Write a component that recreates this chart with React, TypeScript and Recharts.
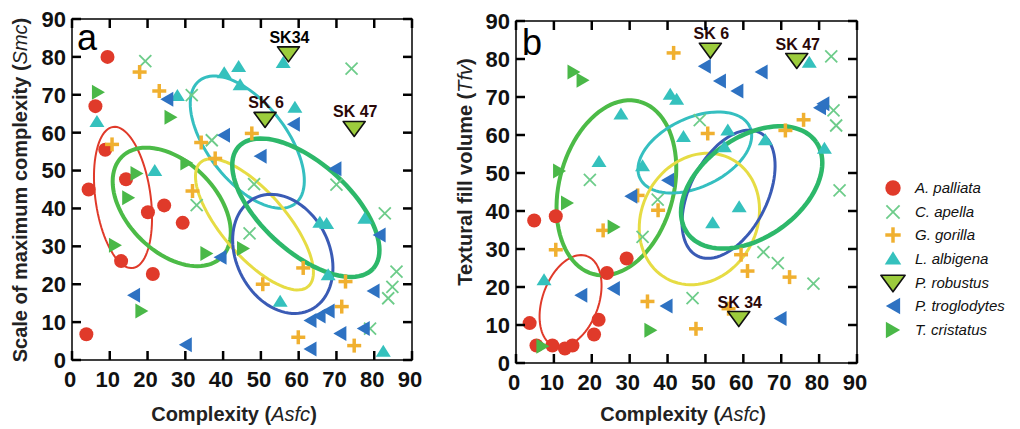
import React from 'react';
import { ScatterChart, Scatter, XAxis, YAxis, ReferenceArea, Label, Customized } from 'recharts';

type Pt = { x: number; y: number; label?: string };
type Ell = { species: string; cx: number; cy: number; a: number; b: number; angle: number };

const TICKS = [0, 10, 20, 30, 40, 50, 60, 70, 80, 90];

const SPECIES = ['palliata', 'apella', 'gorilla', 'albigena', 'robustus', 'troglodytes', 'cristatus'];
const SPECIES_NAMES = ['A. palliata', 'C. apella', 'G. gorilla', 'L. albigena', 'P. robustus', 'P. troglodytes', 'T. cristatus'];

const toPts = (arr: (number | string)[][]): Pt[] =>
  arr.map((r) => ({ x: r[0] as number, y: r[1] as number, label: r[2] as string | undefined }));

// ---------- Panel a : Asfc vs Smc ----------
const palliataA = toPts([[9.4, 80], [6.2, 67], [8.8, 55.5], [4.4, 45], [14.3, 47.7], [20.1, 39], [24.4, 40.8], [29.3, 36.2], [13, 26.1], [21.4, 22.7], [3.8, 6.8]]);
const apellaA = toPts([[19.4, 78.9], [31.7, 69.9], [37, 58], [33, 40.9], [48.2, 46.4], [47, 33.4], [70, 46.3], [74, 76.9], [82.8, 38.7], [85.9, 23.3], [84.8, 19.3], [83.7, 16.3], [78.9, 8.3]]);
const gorillaA = toPts([[17.9, 76], [23.1, 71], [10.6, 56.9], [34.2, 57.4], [37.9, 53.2], [31.9, 44.6], [47.6, 59.8], [61.2, 24.3], [50.5, 20], [72.4, 20.7], [71.4, 14.1], [59.9, 6], [74.7, 3.8]]);
const albigenaA = toPts([[6.6, 62.8], [21.9, 49.9], [27.9, 69.7], [40.3, 75.7], [44.1, 77.3], [44.5, 72.5], [55.9, 78.4], [59, 66.6], [65.6, 36.2], [67.4, 35.9], [67.8, 22.4], [77.5, 37.3], [55.1, 15.4], [82.4, 2.2]]);
const robustusA = toPts([[57.3, 80.8, 'SK34'], [51.1, 63.5, 'SK 6'], [74.7, 61.1, 'SK 47']]);
const troglodytesA = toPts([[25.1, 68.8], [40.1, 59.3], [49.8, 53.8], [58.6, 62.2], [69.6, 50.5], [81.3, 33], [79.7, 18.2], [77.1, 8.3], [70.9, 7], [63, 10.4], [65.4, 11.6], [67.8, 12.9], [63, 2.9], [16.3, 17.1], [30, 4], [39.2, 27.1]]);
const cristatusA = toPts([[7, 70.7], [26.2, 64.1], [17.2, 49.2], [15, 42.8], [11.5, 30.3], [18.5, 12.9], [30.4, 52], [35.7, 28.1], [45.4, 29.4]]);

const ellipsesA: Ell[] = [
  { species: 'palliata', cx: 13.5, cy: 42.9, a: 18.8, b: 7.3, angle: -82 },
  { species: 'cristatus', cx: 26.4, cy: 40.4, a: 18.7, b: 11.8, angle: -45 },
  { species: 'albigena', cx: 46.4, cy: 57.5, a: 20.6, b: 10.4, angle: -52 },
  { species: 'gorilla', cx: 48.3, cy: 35.8, a: 21.7, b: 8.5, angle: -49 },
  { species: 'troglodytes', cx: 55.8, cy: 28, a: 16.5, b: 12.3, angle: -63 },
  { species: 'apella', cx: 61.9, cy: 40.2, a: 24, b: 11.7, angle: -42 },
];

// ---------- Panel b : Asfc vs Tfv ----------
const palliataB = toPts([[4.8, 37.5], [10.5, 38.6], [3.6, 10.5], [5.4, 4.6], [9.6, 4.6], [12.9, 3.8], [14.9, 4.6], [20.6, 7.5], [21.8, 11.4], [24, 23.7], [29.2, 27.5]]);
const apellaB = toPts([[19.5, 48.2], [37.4, 43], [33.4, 33.2], [48.5, 63.9], [46.6, 17.1], [65.3, 29.2], [69.1, 26.3], [78.5, 20.9], [83.2, 80.7], [83.8, 66.5], [84.5, 62.5], [85.4, 45.4]]);
const gorillaB = toPts([[41.6, 81.6], [50.6, 60.4], [71.1, 61.2], [75.9, 64], [32.1, 44.1], [37.5, 40.2], [23, 34.9], [10.5, 29.8], [59.4, 28.5], [61.1, 24.2], [72.2, 22.6], [34.7, 16.2], [47.5, 9], [56.1, 14.3]]);
const albigenaB = toPts([[7.4, 21.8], [21.9, 52.9], [27.7, 65.4], [33.4, 51.8], [40.7, 70.6], [42.4, 69.3], [44.2, 59.5], [55.9, 61.2], [55, 56.8], [51.9, 36.8], [58.9, 41], [65.8, 58.6], [77.4, 79], [81.4, 56.4]]);
const robustusB = toPts([[51.3, 82.3, 'SK 6'], [74.1, 79.6, 'SK 47'], [58.8, 11.7, 'SK 34']]);
const troglodytesB = toPts([[49.7, 78.1], [53.7, 74.2], [58.3, 71.6], [64.7, 76.6], [80.1, 67.2], [81, 68.2], [40, 48.1], [30.3, 43.9], [25.7, 19.6], [17.1, 17.8], [39.6, 15], [69.7, 11.7]]);
const cristatusB = toPts([[15.3, 76.6], [17.7, 74.4], [11.5, 50.5], [13.6, 42.1], [25.9, 35.8], [35.6, 8.6], [7.1, 4.4]]);

const ellipsesB: Ell[] = [
  { species: 'palliata', cx: 14.4, cy: 16.3, a: 12.6, b: 7.4, angle: 70 },
  { species: 'cristatus', cx: 26.5, cy: 46.1, a: 23.5, b: 15.1, angle: 75 },
  { species: 'albigena', cx: 47.2, cy: 55.4, a: 16, b: 9.1, angle: 25 },
  { species: 'gorilla', cx: 48.4, cy: 37.9, a: 17.9, b: 15.2, angle: 61 },
  { species: 'troglodytes', cx: 56.1, cy: 44.4, a: 18.2, b: 10.2, angle: 63 },
  { species: 'apella', cx: 62.2, cy: 46.2, a: 20.8, b: 13.2, angle: 35 },
];

// ---------- styles ----------
const COLORS: Record<string, string> = {
  palliata: '#e03a2a',
  apella: '#6dcc8a',
  gorilla: '#f0b030',
  albigena: '#35c1bd',
  robustus: '#9ccc3c',
  troglodytes: '#2e72c2',
  cristatus: '#4ab848',
};
const ELL_STYLE: Record<string, { stroke: string; width: number }> = {
  palliata: { stroke: '#e03a2a', width: 2 },
  cristatus: { stroke: '#4cbb47', width: 4 },
  albigena: { stroke: '#35bfc0', width: 3 },
  gorilla: { stroke: '#e6dc44', width: 3 },
  troglodytes: { stroke: '#3a5bb5', width: 3 },
  apella: { stroke: '#2db86a', width: 4.5 },
};
const FONT = '"Liberation Sans", Arial, Helvetica, sans-serif';

const ellipsePath = (e: Ell): Pt[] => {
  const out: Pt[] = [];
  const th = (e.angle * Math.PI) / 180;
  for (let i = 0; i <= 90; i++) {
    const t = (i / 90) * Math.PI * 2;
    const ux = e.a * Math.cos(t);
    const uy = e.b * Math.sin(t);
    out.push({ x: e.cx + ux * Math.cos(th) - uy * Math.sin(th), y: e.cy + ux * Math.sin(th) + uy * Math.cos(th) });
  }
  return out;
};

function Marker({ kind, cx, cy, s = 1 }: { kind: string; cx: number; cy: number; s?: number }) {
  const c = COLORS[kind];
  switch (kind) {
    case 'palliata':
      return <circle cx={cx} cy={cy} r={7 * s} fill={c} />;
    case 'apella':
      return (
        <g stroke={c} strokeWidth={1.8}>
          <line x1={cx - 6 * s} y1={cy - 6 * s} x2={cx + 6 * s} y2={cy + 6 * s} />
          <line x1={cx - 6 * s} y1={cy + 6 * s} x2={cx + 6 * s} y2={cy - 6 * s} />
        </g>
      );
    case 'gorilla':
      return (
        <g stroke={c} strokeWidth={3.5}>
          <line x1={cx - 7 * s} y1={cy} x2={cx + 7 * s} y2={cy} />
          <line x1={cx} y1={cy - 7 * s} x2={cx} y2={cy + 7 * s} />
        </g>
      );
    case 'albigena':
      return <polygon points={`${cx},${cy - 7 * s} ${cx + 7.5 * s},${cy + 5 * s} ${cx - 7.5 * s},${cy + 5 * s}`} fill={c} />;
    case 'robustus':
      return (
        <polygon
          points={`${cx - 11 * s},${cy - 7 * s} ${cx + 11 * s},${cy - 7 * s} ${cx},${cy + 8 * s}`}
          fill={c}
          stroke="#111"
          strokeWidth={1.6}
          strokeLinejoin="round"
        />
      );
    case 'troglodytes':
      return <polygon points={`${cx - 6.5 * s},${cy} ${cx + 6.5 * s},${cy - 7.5 * s} ${cx + 6.5 * s},${cy + 7.5 * s}`} fill={c} />;
    case 'cristatus':
      return <polygon points={`${cx + 6.5 * s},${cy} ${cx - 6.5 * s},${cy - 7.5 * s} ${cx - 6.5 * s},${cy + 7.5 * s}`} fill={c} />;
    default:
      return <g />;
  }
}

const shapeFor = (kind: string) => (p: any) => {
  if (p.cx == null || p.cy == null) return <g />;
  const lbl = p.payload && p.payload.label;
  return (
    <g>
      <Marker kind={kind} cx={p.cx} cy={p.cy} />
      {lbl ? (
        <text
          x={p.cx + 1}
          y={p.cy - 11}
          textAnchor="middle"
          fontFamily={FONT}
          fontSize={16}
          fontWeight="bold"
          fill={lbl === 'SK34' ? '#000' : '#2a0808'}
        >
          {lbl}
        </text>
      ) : null}
    </g>
  );
};

const makeXTick = (top: number) => (props: any) => {
  const { x, y, payload } = props;
  return (
    <g>
      <line x1={x} x2={x} y1={y} y2={y - 9} stroke="#000" strokeWidth={2.5} />
      <line x1={x} x2={x} y1={top} y2={top + 9} stroke="#000" strokeWidth={2.5} />
      <text x={x - 2} y={y + 27} textAnchor="middle" fontFamily={FONT} fontSize={22} fontWeight="bold" fill="#111">
        {payload.value}
      </text>
    </g>
  );
};

const makeYTick = (right: number) => (props: any) => {
  const { x, y, payload } = props;
  return (
    <g>
      <line x1={x} x2={x + 9} y1={y} y2={y} stroke="#000" strokeWidth={2.5} />
      <line x1={right} x2={right - 9} y1={y} y2={y} stroke="#000" strokeWidth={2.5} />
      <text x={x - 6} y={y} dy="0.36em" textAnchor="end" fontFamily={FONT} fontSize={22} fontWeight="bold" fill="#111">
        {payload.value}
      </text>
    </g>
  );
};

type PanelProps = {
  left: number;
  margin: { top: number; right: number; left: number; bottom: number };
  yWidth: number;
  xHeight: number;
  series: Record<string, Pt[]>;
  ellipses: Ell[];
  yTitle: [string, string];
  yTitlePos: [number, number];
  xTitlePos: [number, number];
  letter: string;
  letterPos: [number, number];
};

function Panel(pp: PanelProps) {
  const W = 440;
  const H = 429;
  const top = pp.margin.top;
  const right = W - pp.margin.right;
  return (
    <div style={{ position: 'absolute', left: pp.left, top: 0 }}>
      <ScatterChart width={W} height={H} margin={pp.margin}>
        <XAxis
          type="number"
          dataKey="x"
          domain={[0, 90]}
          ticks={TICKS}
          interval={0}
          allowDataOverflow
          axisLine={false}
          tickLine={false}
          tickSize={0}
          tickMargin={0}
          height={pp.xHeight}
          tick={makeXTick(top)}
        >
          <Label
            content={() => (
              <text x={pp.xTitlePos[0]} y={pp.xTitlePos[1]} textAnchor="middle" fontFamily={FONT} fontSize={20} fill="#222">
                <tspan fontWeight="bold">Complexity (</tspan>
                <tspan fontStyle="italic">Asfc</tspan>
                <tspan fontWeight="bold">)</tspan>
              </text>
            )}
          />
        </XAxis>
        <YAxis
          type="number"
          dataKey="y"
          domain={[0, 90]}
          ticks={TICKS}
          interval={0}
          allowDataOverflow
          axisLine={false}
          tickLine={false}
          tickSize={0}
          tickMargin={0}
          width={pp.yWidth}
          tick={makeYTick(right)}
        >
          <Label
            content={() => (
              <text
                x={pp.yTitlePos[0]}
                y={pp.yTitlePos[1]}
                transform={`rotate(-90, ${pp.yTitlePos[0]}, ${pp.yTitlePos[1]})`}
                textAnchor="middle"
                fontFamily={FONT}
                fontSize={20}
                fill="#222"
              >
                <tspan fontWeight="bold">{pp.yTitle[0]} (</tspan>
                <tspan fontStyle="italic">{pp.yTitle[1]}</tspan>
                <tspan fontWeight="bold">)</tspan>
              </text>
            )}
          />
        </YAxis>
        <ReferenceArea x1={0} x2={90} y1={0} y2={90} fill="none" stroke="#000" strokeWidth={1.5} ifOverflow="visible" />
        {pp.ellipses.map((e) => (
          <Scatter
            key={'e-' + e.species}
            data={ellipsePath(e)}
            line={{ stroke: ELL_STYLE[e.species].stroke, strokeWidth: ELL_STYLE[e.species].width }}
            shape={() => <g />}
            isAnimationActive={false}
            legendType="none"
          />
        ))}
        {['palliata', 'apella', 'gorilla', 'albigena', 'troglodytes', 'cristatus', 'robustus'].map((k) => (
          <Scatter key={k} name={k} data={pp.series[k]} shape={shapeFor(k)} isAnimationActive={false} />
        ))}
        <Customized
          component={() => (
            <text x={pp.letterPos[0]} y={pp.letterPos[1]} fontFamily={FONT} fontSize={36} fill="#000">
              {pp.letter}
            </text>
          )}
        />
      </ScatterChart>
    </div>
  );
}

function LegendBox() {
  return (
    <div style={{ position: 'absolute', left: 880, top: 176, fontFamily: FONT }}>
      {SPECIES.map((k, i) => (
        <div key={k} style={{ display: 'flex', alignItems: 'center', height: 23.7 }}>
          <svg width={28} height={24} style={{ display: 'block' }}>
            <Marker kind={k} cx={13} cy={12} s={1.1} />
          </svg>
          <span style={{ marginLeft: 7, fontSize: 15, fontStyle: 'italic', color: '#111', lineHeight: '24px' }}>
            {SPECIES_NAMES[i]}
          </span>
        </div>
      ))}
    </div>
  );
}

export default function App() {
  return (
    <div style={{ position: 'absolute', left: 0, top: 0, width: 1020, height: 429, background: '#fff', fontFamily: FONT }}>
      <Panel
        left={0}
        margin={{ top: 19, right: 28, left: 0, bottom: 0 }}
        yWidth={72}
        xHeight={69}
        series={{
          palliata: palliataA,
          apella: apellaA,
          gorilla: gorillaA,
          albigena: albigenaA,
          robustus: robustusA,
          troglodytes: troglodytesA,
          cristatus: cristatusA,
        }}
        ellipses={ellipsesA}
        yTitle={['Scale of maximum complexity', 'Smc']}
        yTitlePos={[27, 190]}
        xTitlePos={[234, 421]}
        letter="a"
        letterPos={[77, 50]}
      />
      <Panel
        left={440}
        margin={{ top: 21, right: 23, left: 0, bottom: 0 }}
        yWidth={76}
        xHeight={66}
        series={{
          palliata: palliataB,
          apella: apellaB,
          gorilla: gorillaB,
          albigena: albigenaB,
          robustus: robustusB,
          troglodytes: troglodytesB,
          cristatus: cristatusB,
        }}
        ellipses={ellipsesB}
        yTitle={['Textural fill volume', 'Tfv']}
        yTitlePos={[32, 172]}
        xTitlePos={[243, 421]}
        letter="b"
        letterPos={[82, 55]}
      />
      <LegendBox />
    </div>
  );
}
